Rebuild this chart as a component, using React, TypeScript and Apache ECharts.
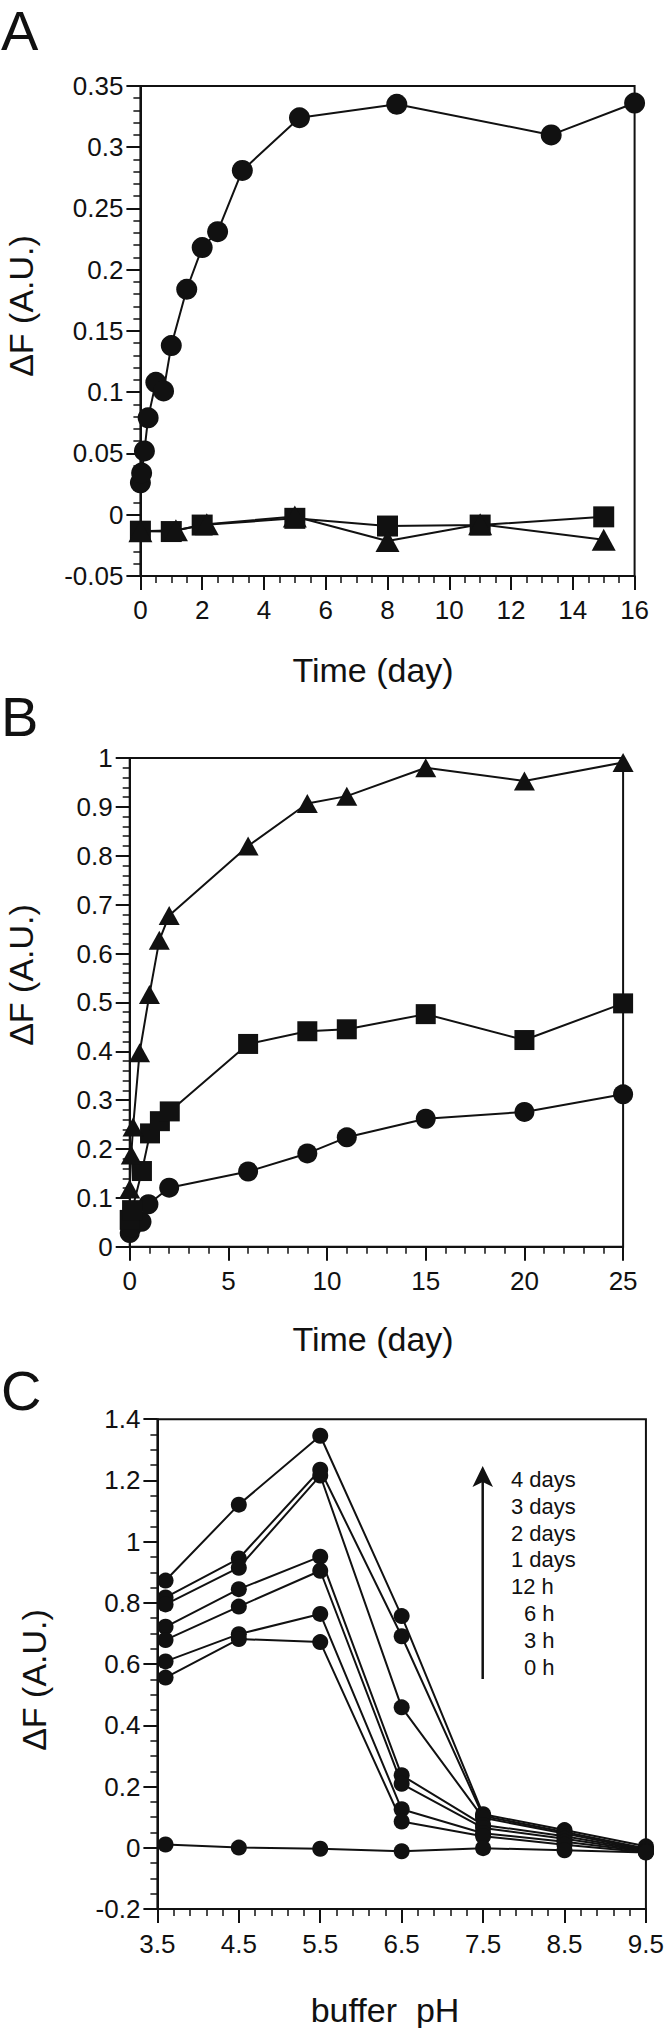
import React, { useEffect, useRef } from "react";
import * as echarts from "echarts";

// ---------- Panel A (Time in days, ΔF) ----------
const aCircle: [number, number][] = [
  [0, 0.026], [0.04, 0.034], [0.13, 0.052], [0.25, 0.079], [0.5, 0.108],
  [0.75, 0.101], [1, 0.138], [1.5, 0.184], [2, 0.218], [2.5, 0.231],
  [3.3, 0.281], [5.15, 0.324], [8.3, 0.335], [13.3, 0.31], [16, 0.336],
];
const aSquare: [number, number][] = [
  [0, -0.0135], [1, -0.0138], [2, -0.0085], [5, -0.003], [8, -0.0093],
  [11, -0.0085], [15, -0.0018],
];
const aTriangle: [number, number][] = [
  [0, -0.0135], [1.15, -0.0128], [2.15, -0.0078], [5, -0.0015], [8, -0.0215],
  [11, -0.0078], [15, -0.0205],
];

// ---------- Panel B ----------
const bTriangle: [number, number][] = [
  [0, 0.118], [0.08, 0.188], [0.17, 0.245], [0.5, 0.397], [1, 0.516],
  [1.5, 0.627], [2, 0.678], [6, 0.82], [9, 0.907], [11, 0.922],
  [15, 0.98], [20, 0.953], [25, 0.991],
];
const bSquare: [number, number][] = [
  [0, 0.055], [0.12, 0.075], [0.62, 0.155], [1.03, 0.232], [1.53, 0.257],
  [2.03, 0.277], [6, 0.415], [9, 0.441], [11, 0.445], [15, 0.476],
  [20, 0.423], [25, 0.498],
];
const bCircle: [number, number][] = [
  [0, 0.028], [0.1, 0.04], [0.25, 0.058], [0.6, 0.051], [0.95, 0.087],
  [2, 0.121], [6, 0.154], [9, 0.191], [11, 0.224], [15, 0.262],
  [20, 0.276], [25, 0.312],
];

// ---------- Panel C (buffer pH) ----------
const cPH = [3.6, 4.5, 5.5, 6.5, 7.5, 8.5, 9.5];
const cLabels = ["4 days", "3 days", "2 days", "1 days", "12 h", "6 h", "3 h", "0 h"];
const c4d = [0.873, 1.121, 1.346, 0.757, 0.11, 0.058, 0.005];
const c3d = [0.818, 0.945, 1.235, 0.691, 0.104, 0.052, -0.002];
const c2d = [0.795, 0.915, 1.216, 0.459, 0.098, 0.047, -0.006];
const c1d = [0.722, 0.845, 0.951, 0.237, 0.075, 0.038, -0.008];
const c12h = [0.679, 0.788, 0.905, 0.209, 0.065, 0.03, -0.01];
const c6h = [0.609, 0.698, 0.764, 0.126, 0.048, 0.02, -0.012];
const c3h = [0.556, 0.682, 0.672, 0.086, 0.038, 0.01, -0.014];
const c0h = [0.011, 0.001, -0.003, -0.011, -0.001, -0.008, -0.015];
const cSeries = [c4d, c3d, c2d, c1d, c12h, c6h, c3h, c0h];

const INK = "#111111";
const FONT = "Liberation Sans";

function xAxis(gridIndex: number, min: number, max: number, interval: number, minorSplit: number, margin: number) {
  return {
    type: "value",
    gridIndex,
    min,
    max,
    interval,
    axisLine: { show: true, onZero: false, lineStyle: { color: INK, width: 2 } },
    axisTick: { show: true, inside: false, length: 14, lineStyle: { color: INK, width: 2 } },
    minorTick: { show: true, splitNumber: minorSplit, length: 7, lineStyle: { color: INK, width: 1.5 } },
    axisLabel: { color: INK, fontSize: 26, fontFamily: FONT, margin },
    splitLine: { show: false },
    minorSplitLine: { show: false },
  };
}

function yAxis(gridIndex: number, min: number, max: number, interval: number, minorSplit: number) {
  return {
    type: "value",
    gridIndex,
    min,
    max,
    interval,
    axisLine: { show: true, onZero: false, lineStyle: { color: INK, width: 2 } },
    axisTick: { show: true, inside: false, length: 14, lineStyle: { color: INK, width: 2 } },
    minorTick: { show: true, splitNumber: minorSplit, length: 7, lineStyle: { color: INK, width: 1.5 } },
    axisLabel: { color: INK, fontSize: 26, fontFamily: FONT, margin: 17 },
    splitLine: { show: false },
    minorSplitLine: { show: false },
  };
}

function lineSeries(idx: number, data: [number, number][], symbol: string, size: number | number[]) {
  return {
    type: "line",
    xAxisIndex: idx,
    yAxisIndex: idx,
    data,
    symbol,
    symbolSize: size,
    clip: false,
    lineStyle: { color: INK, width: 2 },
    itemStyle: { color: INK, borderWidth: 0 },
  };
}

function titleText(text: string, x: number, y: number, rotate: boolean, size = 34) {
  return {
    type: "text",
    x,
    y,
    rotation: rotate ? Math.PI / 2 : 0,
    style: {
      text,
      fill: INK,
      font: `${size}px "${FONT}"`,
      align: "center",
      verticalAlign: "middle",
    },
  };
}

export default function App() {
  const ref = useRef<HTMLDivElement>(null);

  useEffect(() => {
    document.body.style.margin = "0";
    if (!ref.current) return;
    const chart = echarts.init(ref.current, undefined, { renderer: "svg" });

    const legendX = [511, 511, 511, 511, 511, 524, 524, 524];
    const legendY0 = 1479.5;
    const legendStep = 26.8;

    const graphics: any[] = [
      // Panel letters
      { type: "text", x: 1, y: 30, style: { text: "A", fill: INK, font: `56px "${FONT}"`, align: "left", verticalAlign: "middle" } },
      { type: "text", x: 1, y: 716, style: { text: "B", fill: INK, font: `56px "${FONT}"`, align: "left", verticalAlign: "middle" } },
      { type: "text", x: 1, y: 1390, style: { text: "C", fill: INK, font: `56px "${FONT}"`, align: "left", verticalAlign: "middle" } },
      // Axis titles
      titleText("ΔF (A.U.)", 21, 306, true),
      titleText("Time (day)", 373, 670, false),
      titleText("ΔF (A.U.)", 21, 975, true),
      titleText("Time (day)", 373, 1339, false),
      titleText("ΔF (A.U.)", 34, 1680, true),
      titleText("buffer  pH", 385, 2010, false),
      // Arrow in panel C
      {
        type: "line",
        shape: { x1: 482.7, y1: 1482, x2: 482.7, y2: 1679 },
        style: { stroke: INK, lineWidth: 2.5 },
      },
      {
        type: "polygon",
        shape: { points: [[482.7, 1466], [472.5, 1487], [482.7, 1482], [493, 1487]] },
        style: { fill: INK },
      },
    ];
    cLabels.forEach((t, i) => {
      graphics.push({
        type: "text",
        x: legendX[i],
        y: legendY0 + i * legendStep,
        style: { text: t, fill: INK, font: `22px "${FONT}"`, align: "left", verticalAlign: "middle" },
      });
    });

    const cData = cSeries.map((vals) => vals.map((v, i) => [cPH[i], v] as [number, number]));

    chart.setOption({
      animation: false,
      backgroundColor: "#ffffff",
      textStyle: { fontFamily: FONT },
      grid: [
        { left: 140.4, top: 85.9, width: 494.2, height: 490, show: true, borderColor: INK, borderWidth: 2, backgroundColor: "transparent" },
        { left: 129.7, top: 758, width: 493.4, height: 488.8, show: true, borderColor: INK, borderWidth: 2, backgroundColor: "transparent" },
        { left: 157.4, top: 1419.2, width: 493.4, height: 489.9, show: true, borderColor: INK, borderWidth: 2, backgroundColor: "transparent" },
      ],
      xAxis: [
        xAxis(0, 0, 16, 2, 4, 21),
        xAxis(1, 0, 25, 5, 5, 21),
        xAxis(2, 3.5, 9.5, 1, 5, 22),
      ],
      yAxis: [
        yAxis(0, -0.05, 0.35, 0.05, 5),
        yAxis(1, 0, 1, 0.1, 5),
        yAxis(2, -0.2, 1.4, 0.2, 4),
      ],
      series: [
        lineSeries(0, aSquare, "rect", 21),
        lineSeries(0, aTriangle, "triangle", [24, 22]),
        lineSeries(0, aCircle, "circle", 21),
        lineSeries(1, bCircle, "circle", 20),
        lineSeries(1, bSquare, "rect", 20),
        lineSeries(1, bTriangle, "triangle", [21, 19]),
        ...cData.map((d) => lineSeries(2, d, "circle", 16)),
      ],
      graphic: graphics,
    });

    return () => chart.dispose();
  }, []);

  return <div ref={ref} style={{ width: 667, height: 2028 }} />;
}
